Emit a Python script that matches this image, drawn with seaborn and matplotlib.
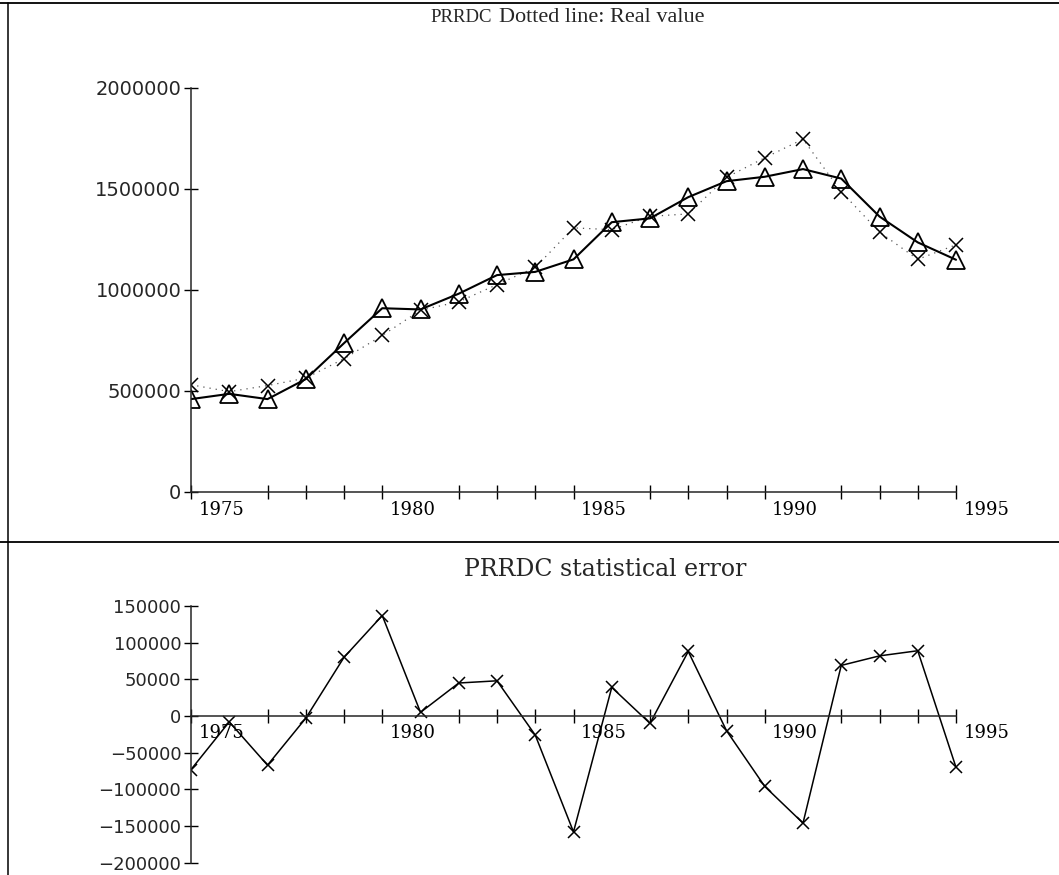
import matplotlib
matplotlib.use("Agg")
import matplotlib.pyplot as plt
import matplotlib.transforms as mtrans
from matplotlib.lines import Line2D
from matplotlib.ticker import FixedLocator, FuncFormatter
import seaborn as sns

# ---------------- data ----------------
years = list(range(1974, 1995))
fitted = [458000, 484000, 458000, 557000, 735000, 908000, 902000, 980000,
          1072000, 1088000, 1150000, 1334000, 1353000, 1458000, 1537000,
          1559000, 1597000, 1550000, 1362000, 1234000, 1148000]
real = [529000, 495000, 525000, 562000, 658000, 773000, 898000, 940000,
        1025000, 1110000, 1306000, 1297000, 1363000, 1375000, 1556000,
        1653000, 1745000, 1485000, 1285000, 1150000, 1222000]
error = [-73000, -8000, -67000, -3000, 80000, 137000, 5000, 45000, 48000,
         -26000, -158000, 39000, -10000, 88000, -20000, -96000, -146000,
         69000, 82000, 89000, -70000]
year_labels = [1975, 1980, 1985, 1990, 1995]
top_yticks = [0, 500000, 1000000, 1500000, 2000000]
bot_yticks = [-200000, -150000, -100000, -50000, 0, 50000, 100000, 150000]
top_title_a = "PRRDC"
top_title_b = "Dotted line: Real value"
bot_title = "PRRDC statistical error"

# ---------------- style ----------------
sns.set_style("ticks")
plt.rcParams["font.family"] = ["DejaVu Serif", "DejaVu Sans"]
plt.rcParams["axes.unicode_minus"] = True

W, H = 1059, 875
fig = plt.figure(figsize=(W / 100, H / 100), dpi=100)
fig.patch.set_facecolor("white")

x0, x1995 = 191, 994.25
ax1 = fig.add_axes([x0 / W, 1 - 491.6 / H, (x1995 - x0) / W, (491.6 - 87.7) / H])
ax2 = fig.add_axes([x0 / W, 1 - 862.7 / H, (x1995 - x0) / W, (862.7 - 606) / H])

# ---------------- top panel ----------------
sns.lineplot(x=years, y=real, ax=ax1, color="#555555", lw=0.9,
             linestyle=(0, (1, 4)), marker="x", markersize=10,
             markeredgewidth=1.1, markeredgecolor="black")
sns.lineplot(x=years, y=fitted, ax=ax1, color="black", lw=1.5,
             marker="^", markersize=13, markerfacecolor="none",
             markeredgecolor="black", markeredgewidth=1.3)
ax1.set_ylim(0, 2000000)

# ---------------- bottom panel ----------------
sns.lineplot(x=years, y=error, ax=ax2, color="black", lw=1.1,
             marker="x", markersize=8, markeredgewidth=1.1,
             markeredgecolor="black")
ax2.set_ylim(-200000, 150000)
ax2.spines["bottom"].set_position(("data", 0))

plain = FuncFormatter(lambda v, p: f"{int(v)}".replace("-", "\u2212"))
for ax, yt, ysize, pad in ((ax1, top_yticks, 14, 7), (ax2, bot_yticks, 13, 6)):
    ax.set_xlim(1974, 1995)
    ax.spines["top"].set_visible(False)
    ax.spines["right"].set_visible(False)
    ax.spines["bottom"].set_bounds(1974, 1994)
    ax.spines["left"].set_linewidth(1.1)
    ax.spines["bottom"].set_linewidth(1.1)
    ax.set_facecolor("white")
    ax.xaxis.set_major_locator(FixedLocator(year_labels))
    ax.xaxis.set_minor_locator(FixedLocator(years))
    ax.tick_params(axis="x", which="major", length=0, pad=pad,
                   labelsize=13, labelcolor="black")
    ax.tick_params(axis="x", which="minor", direction="inout", length=10,
                   width=1.0, color="black")
    ax.yaxis.set_major_locator(FixedLocator(yt))
    ax.yaxis.set_major_formatter(plain)
    ax.tick_params(axis="y", direction="inout", length=10, width=1.0,
                   color="black", pad=2, labelsize=ysize)
    for lab in ax.get_yticklabels():
        lab.set_family(["DejaVu Sans"])
    off = mtrans.ScaledTranslation(-8 / 100, 0, fig.dpi_scale_trans)
    for lab in ax.get_xticklabels():
        lab.set_transform(lab.get_transform() + off)
        lab.set_family(["DejaVu Serif"])
    ax.set_xlabel("")
    ax.set_ylabel("")

# ---------------- titles ----------------
fig.text(430 / W, 1 - 18 / H, top_title_a, fontsize=13.5,
         family=["Liberation Serif"], va="center", ha="left")
fig.text(499 / W, 1 - 18 / H, top_title_b, fontsize=16,
         family=["Liberation Serif"], va="center", ha="left")
fig.text(605 / W, 1 - 569 / H, bot_title, fontsize=17,
         family=["DejaVu Serif"], va="center", ha="center")

# ---------------- frame lines ----------------
fig.add_artist(Line2D([0, 1], [1 - 3 / H, 1 - 3 / H], color="black", lw=1.3,
                      transform=fig.transFigure))
fig.add_artist(Line2D([0, 1], [1 - 542 / H, 1 - 542 / H], color="black", lw=1.3,
                      transform=fig.transFigure))
fig.add_artist(Line2D([8 / W, 8 / W], [0, 1 - 3 / H], color="black", lw=1.1,
                      transform=fig.transFigure))

fig.savefig("out.png", dpi=100, facecolor="white")
